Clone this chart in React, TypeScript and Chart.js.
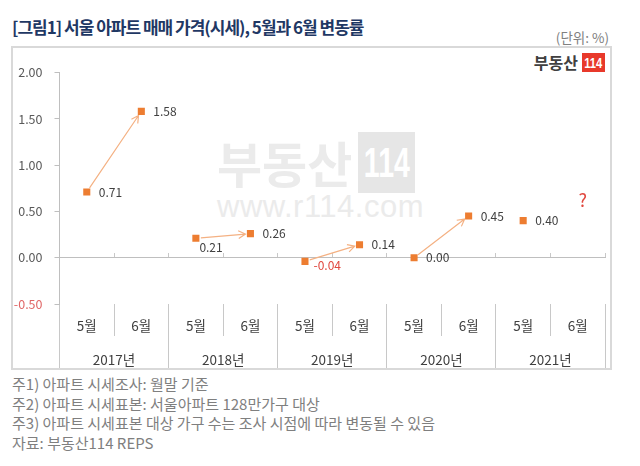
import { useEffect, useRef } from 'react';
import { Chart, registerables } from 'chart.js';

Chart.register(...registerables);

const monthLabels = ['5월', '6월', '5월', '6월', '5월', '6월', '5월', '6월', '5월', '6월'];
const yearLabels = ['2017년', '2018년', '2019년', '2020년', '2021년'];
const changeValues: (number | null)[] = [0.71, 1.58, 0.21, 0.26, -0.04, 0.14, 0.0, 0.45, 0.4, null];
const yMin = -0.5;
const yMax = 2.0;
const yStep = 0.5;
const unknownIndex = 9;
const unknownValue = 0.62;
const unknownText = '?';

const titleText = '[그림1] 서울 아파트 매매 가격(시세), 5월과 6월 변동률';
const unitText = '(단위: %)';
const noteLines = [
  '주1) 아파트 시세조사: 월말 기준',
  '주2) 아파트 시세표본: 서울아파트 128만가구 대상',
  '주3) 아파트 시세표본 대상 가구 수는 조사 시점에 따라 변동될 수 있음',
  '자료: 부동산114 REPS',
];

const FONT = "'Noto Sans CJK KR', 'Noto Sans', sans-serif";
const ORANGE = '#ed7d31';
const ARROW = '#f4b183';
const RED = '#e0473e';
const GRID = '#c8c8c8';

const labelShift: Record<number, { dx: number; dy: number }> = {
  2: { dx: 3.5, dy: 9 },
  4: { dx: 8.5, dy: 4 },
};

const annotatePlugin = {
  id: 'annotate',
  beforeDatasetsDraw(chart: any) {
    const meta = chart.getDatasetMeta(0);
    const ctx = chart.ctx as CanvasRenderingContext2D;
    ctx.save();
    ctx.strokeStyle = ARROW;
    ctx.lineWidth = 1.2;
    for (let i = 0; i + 1 < changeValues.length; i += 2) {
      if (changeValues[i] == null || changeValues[i + 1] == null) continue;
      const a = meta.data[i];
      const b = meta.data[i + 1];
      const dx = b.x - a.x;
      const dy = b.y - a.y;
      const len = Math.hypot(dx, dy);
      const ux = dx / len;
      const uy = dy / len;
      const sx = a.x + ux * 5;
      const sy = a.y + uy * 5;
      const ex = b.x - ux * 5;
      const ey = b.y - uy * 5;
      const ang = Math.atan2(dy, dx);
      const hl = 8;
      const ha = 0.5;
      ctx.beginPath();
      ctx.moveTo(sx, sy);
      ctx.lineTo(ex, ey);
      ctx.moveTo(ex - hl * Math.cos(ang - ha), ey - hl * Math.sin(ang - ha));
      ctx.lineTo(ex, ey);
      ctx.lineTo(ex - hl * Math.cos(ang + ha), ey - hl * Math.sin(ang + ha));
      ctx.stroke();
    }
    ctx.restore();
  },
  afterDatasetsDraw(chart: any) {
    const meta = chart.getDatasetMeta(0);
    const ctx = chart.ctx as CanvasRenderingContext2D;
    ctx.save();
    ctx.font = `12px ${FONT}`;
    ctx.textAlign = 'left';
    ctx.textBaseline = 'middle';
    changeValues.forEach((v, i) => {
      if (v == null) return;
      const p = meta.data[i];
      const s = labelShift[i] || { dx: 12, dy: 0 };
      ctx.fillStyle = v < 0 ? RED : '#404040';
      ctx.fillText(v.toFixed(2), p.x + s.dx, p.y + s.dy);
    });
    const xs = chart.scales.x;
    const ys = chart.scales.y;
    ctx.font = `18px ${FONT}`;
    ctx.fillStyle = RED;
    ctx.textAlign = 'center';
    ctx.fillText(unknownText, xs.getPixelForValue(unknownIndex) + 5, ys.getPixelForValue(unknownValue));
    ctx.restore();
  },
};

export default function App() {
  const canvasRef = useRef<HTMLCanvasElement | null>(null);

  useEffect(() => {
    if (!canvasRef.current) return;
    const chart = new Chart(canvasRef.current, {
      type: 'line',
      data: {
        labels: monthLabels,
        datasets: [
          {
            data: changeValues,
            showLine: false,
            pointStyle: 'rect',
            pointRadius: 5,
            pointHoverRadius: 5,
            pointBackgroundColor: ORANGE,
            pointBorderColor: ORANGE,
            pointBorderWidth: 0,
          },
        ],
      },
      options: {
        animation: false,
        responsive: true,
        maintainAspectRatio: false,
        events: [],
        layout: { padding: { top: 24.5, left: 0, right: 0, bottom: 0 } },
        plugins: { legend: { display: false }, tooltip: { enabled: false }, title: { display: false } },
        scales: {
          y: {
            min: yMin,
            max: yMax,
            position: 'left',
            afterFit: (s: any) => {
              s.width = 46.5;
            },
            ticks: {
              stepSize: yStep,
              padding: 12,
              font: { family: FONT, size: 12.5 },
              color: (c: any) => (c.tick && c.tick.value < 0 ? '#e06666' : '#595959'),
              callback: (v: any) => Number(v).toFixed(2),
            },
            grid: { drawOnChartArea: false, drawTicks: true, tickLength: 5, tickColor: '#bfbfbf' },
            border: { display: true, color: '#bfbfbf', width: 1 },
          },
          x: {
            type: 'category',
            position: 'bottom',
            weight: 0,
            offset: true,
            afterFit: (s: any) => {
              s.height = 32;
            },
            ticks: { padding: -18, font: { family: FONT, size: 13.5 }, color: '#404040', maxRotation: 0, autoSkip: false },
            grid: { offset: true, drawOnChartArea: false, drawTicks: true, tickLength: 32, color: GRID, tickColor: GRID },
            border: { display: false },
          },
          x2: {
            type: 'category',
            position: 'bottom',
            weight: 1,
            labels: yearLabels,
            offset: true,
            afterFit: (s: any) => {
              s.height = 32;
            },
            ticks: { padding: -16, font: { family: FONT, size: 13.5 }, color: '#404040', maxRotation: 0, autoSkip: false },
            grid: { offset: true, drawOnChartArea: false, drawTicks: true, tickLength: 32, color: GRID, tickColor: GRID },
            border: { display: false },
          },
          x3: {
            type: 'category',
            position: { y: 0 } as any,
            labels: monthLabels,
            offset: true,
            afterFit: (s: any) => {
              s.height = 0;
            },
            ticks: { display: false },
            grid: { offset: true, drawOnChartArea: false, drawTicks: true, tickLength: -5, color: GRID, tickColor: GRID },
            border: { display: true, color: '#bfbfbf', width: 1 },
          },
        },
      },
      plugins: [annotatePlugin],
    } as any);
    return () => chart.destroy();
  }, []);

  return (
    <div
      style={{
        position: 'absolute',
        left: 0,
        top: 0,
        width: 640,
        height: 466,
        background: '#ffffff',
        overflow: 'hidden',
        fontFamily: FONT,
      }}
    >
      <div
        style={{
          position: 'absolute',
          left: 12,
          top: 16,
          fontSize: 17,
          lineHeight: '22px',
          fontWeight: 700,
          letterSpacing: -1,
          color: '#1f3864',
          whiteSpace: 'nowrap',
        }}
      >
        {titleText}
      </div>
      <div
        style={{
          position: 'absolute',
          right: 31,
          top: 28,
          fontSize: 13.5,
          lineHeight: '18px',
          color: '#808080',
          whiteSpace: 'nowrap',
        }}
      >
        {unitText}
      </div>
      <div
        style={{
          position: 'absolute',
          left: 11,
          top: 46,
          width: 601,
          height: 324,
          boxSizing: 'border-box',
          border: '2px solid #d9d9d9',
        }}
      />
      {/* watermark */}
      <div
        style={{
          position: 'absolute',
          left: 217,
          top: 133,
          fontSize: 49,
          lineHeight: '58px',
          fontWeight: 700,
          color: '#ebebeb',
          whiteSpace: 'nowrap',
        }}
      >
        부동산
      </div>
      <div
        style={{
          position: 'absolute',
          left: 358,
          top: 132,
          width: 57,
          height: 61,
          background: '#e6e6e6',
          color: '#ffffff',
          fontSize: 42,
          fontWeight: 700,
          display: 'flex',
          alignItems: 'center',
          justifyContent: 'center',
          overflow: 'hidden',
          fontFamily: "'Liberation Sans', sans-serif",
        }}
      >
        <span style={{ display: 'inline-block', transform: 'scaleX(0.68)', lineHeight: 1 }}>114</span>
      </div>
      <div
        style={{
          position: 'absolute',
          left: 217,
          top: 189,
          fontSize: 31,
          lineHeight: '36px',
          letterSpacing: 0.5,
          color: '#ebebeb',
          whiteSpace: 'nowrap',
          fontFamily: "'Liberation Sans', sans-serif",
        }}
      >
        www.r114.com
      </div>
      {/* logo */}
      <div
        style={{
          position: 'absolute',
          right: 62,
          top: 52,
          fontSize: 16,
          lineHeight: '21px',
          fontWeight: 700,
          color: '#404040',
          whiteSpace: 'nowrap',
        }}
      >
        부동산
      </div>
      <div
        style={{
          position: 'absolute',
          left: 582,
          top: 53,
          width: 23,
          height: 19,
          background: '#e8392b',
          color: '#ffffff',
          fontSize: 14,
          fontWeight: 700,
          display: 'flex',
          alignItems: 'center',
          justifyContent: 'center',
          fontFamily: "'Liberation Sans', sans-serif",
        }}
      >
        <span style={{ display: 'inline-block', transform: 'scaleX(0.8)', lineHeight: 1 }}>114</span>
      </div>
      <div style={{ position: 'absolute', left: 13, top: 48, width: 597, height: 320 }}>
        <canvas ref={canvasRef} />
      </div>
      <div
        style={{
          position: 'absolute',
          left: 12,
          top: 374,
          fontSize: 15,
          lineHeight: '19.5px',
          color: '#7f7f7f',
          whiteSpace: 'nowrap',
        }}
      >
        {noteLines.map((l, i) => (
          <div key={i}>{l}</div>
        ))}
      </div>
    </div>
  );
}
